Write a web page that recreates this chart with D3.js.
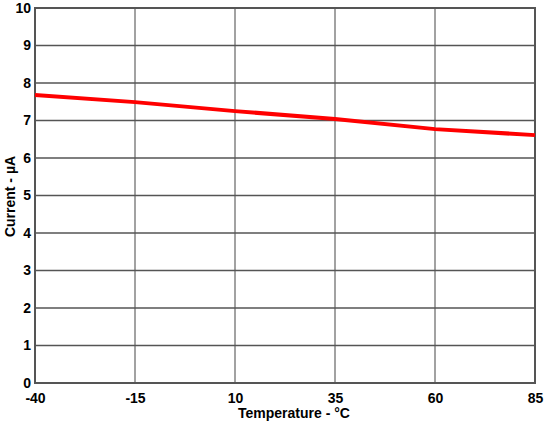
<!DOCTYPE html>
<html><head><meta charset="utf-8">
<script src="https://cdn.jsdelivr.net/npm/d3@7"></script>
<style>body{margin:0;background:#fff;} svg{display:block;font-family:"Liberation Sans",Arial,sans-serif;}</style>
</head><body>
<svg id="c" width="544" height="426"></svg>
<script>
const temps = [-40, -15, 10, 35, 60, 85];
const current = [7.68, 7.49, 7.25, 7.04, 6.77, 6.61];
const xTicks = [-40, -15, 10, 35, 60, 85];
const yTicks = [0,1,2,3,4,5,6,7,8,9,10];
const xTitle = "Temperature - °C";
const yTitle = "Current - µA";

const svg = d3.select("#c");
const L=35, R=535, T=8, B=383;
const x = d3.scaleLinear().domain([-40,85]).range([L,R]);
const y = d3.scaleLinear().domain([0,10]).range([B,T]);

const g = svg.append("g");
g.selectAll(".vg").data(xTicks).join("line")
 .attr("x1",d=>x(d)).attr("x2",d=>x(d)).attr("y1",T).attr("y2",B)
 .attr("stroke","#707070").attr("stroke-width",1.3);
g.selectAll(".hg").data(yTicks).join("line")
 .attr("y1",d=>y(d)).attr("y2",d=>y(d)).attr("x1",L).attr("x2",R)
 .attr("stroke","#555").attr("stroke-width",1.3);
g.append("rect").attr("x",L).attr("y",T).attr("width",R-L).attr("height",B-T)
 .attr("fill","none").attr("stroke","#555").attr("stroke-width",2);

const line = d3.line().x((d,i)=>x(temps[i])).y(d=>y(d));
svg.append("path").datum(current).attr("d",line)
 .attr("fill","none").attr("stroke","#ff0000").attr("stroke-width",4);

const fmt = d => String(d);
const xa = svg.append("g").attr("transform",`translate(0,${B})`)
 .call(d3.axisBottom(x).tickValues(xTicks).tickSize(0).tickPadding(10).tickFormat(fmt));
xa.select(".domain").remove();
xa.selectAll("text").attr("font-size",14).attr("font-weight","bold").attr("fill","#000").attr("font-family","Liberation Sans, Arial, sans-serif");

const ya = svg.append("g").attr("transform",`translate(${L},0)`)
 .call(d3.axisLeft(y).tickValues(yTicks).tickSize(0).tickPadding(4).tickFormat(fmt));
ya.select(".domain").remove();
ya.selectAll("text").attr("font-size",14).attr("font-weight","bold").attr("fill","#000").attr("font-family","Liberation Sans, Arial, sans-serif");

svg.append("text").attr("x",(L+R)/2+9).attr("y",418).attr("text-anchor","middle")
 .attr("font-size",14).attr("font-weight","bold").text(xTitle);
svg.append("text").attr("transform",`translate(15,${(T+B)/2+1}) rotate(-90)`).attr("text-anchor","middle")
 .attr("font-size",14).attr("font-weight","bold").text(yTitle);
</script>
</body></html>
